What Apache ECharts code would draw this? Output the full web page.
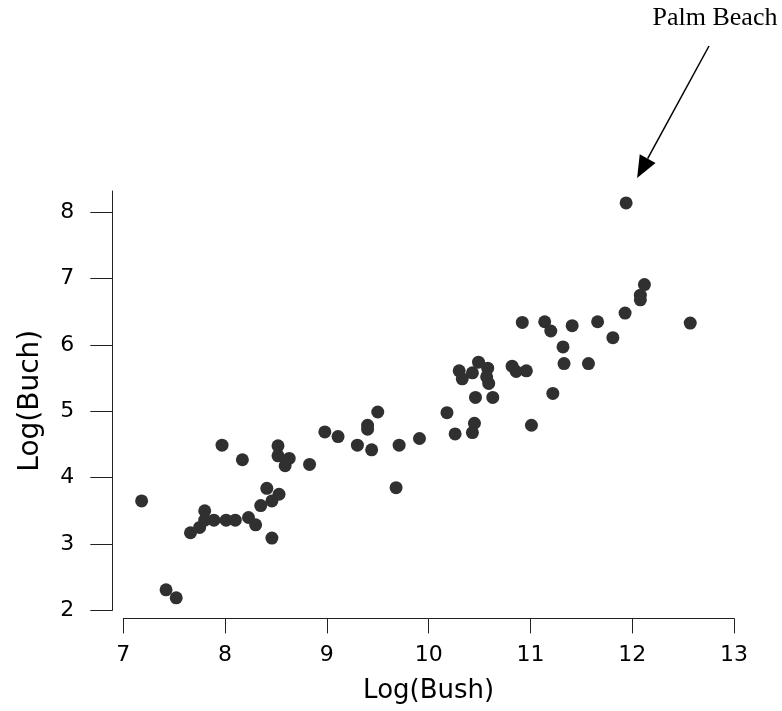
<!DOCTYPE html>
<html>
<head>
<meta charset="utf-8">
<script src="https://cdn.jsdelivr.net/npm/echarts@6/dist/echarts.min.js"></script>
<style>html,body{margin:0;padding:0;background:#fff;}#c{width:782px;height:711px;}</style>
</head>
<body>
<div id="c"></div>
<script>
const bush = [7.18,7.42,7.52,7.66,7.75,7.80,7.80,7.89,8.01,8.10,8.23,8.30,8.35,8.41,8.46,8.53,8.46,
  7.97,8.17,8.52,8.52,8.63,8.59,
  8.83,8.98,9.11,9.30,9.40,9.40,9.44,9.50,9.71,9.68,9.91,10.18,10.46,10.45,10.43,10.26,
  10.92,11.14,11.20,11.41,11.66,11.81,11.32,11.33,11.57,10.49,10.30,10.33,10.43,10.58,10.57,10.59,10.82,10.86,10.96,10.63,11.22,11.01,
  11.94,12.12,12.08,12.08,11.93,12.57];
const buch = [3.65,2.31,2.19,3.17,3.25,3.50,3.36,3.36,3.36,3.36,3.40,3.29,3.58,3.84,3.65,3.75,3.09,
  4.49,4.27,4.48,4.33,4.29,4.18,
  4.20,4.69,4.62,4.49,4.79,4.73,4.42,4.99,4.49,3.85,4.59,4.98,5.21,4.82,4.68,4.66,
  6.34,6.35,6.21,6.29,6.35,6.11,5.97,5.72,5.72,5.74,5.61,5.49,5.58,5.65,5.52,5.42,5.68,5.60,5.61,5.21,5.27,4.79,
  8.14,6.91,6.75,6.68,6.48,6.33];
const xTicks = [7,8,9,10,11,12,13];
const yTicks = [2,3,4,5,6,7,8];
const annotationLabel = 'Palm Beach';
const annotationPoint = [11.94, 8.14];

const chart = echarts.init(document.getElementById('c'), null, {renderer:'canvas'});
const pts = bush.map((b,i)=>[b, buch[i]]);
const axisFont = 'DejaVu Sans';
chart.setOption({
  animation:false,
  backgroundColor:'#ffffff',
  grid:{left:123.3, right:48, top:191, bottom:100.6},
  xAxis:{
    type:'value', min:xTicks[0], max:xTicks[xTicks.length-1], interval:1, offset:8,
    name:'Log(Bush)', nameLocation:'middle', nameGap:60,
    nameTextStyle:{fontFamily:axisFont, fontSize:26, color:'#000'},
    axisLine:{show:true, onZero:false, lineStyle:{color:'#222', width:1}},
    axisTick:{show:true, length:15, lineStyle:{color:'#222', width:1}},
    axisLabel:{fontFamily:axisFont, fontSize:22, color:'#000', margin:26},
    splitLine:{show:false}
  },
  yAxis:{
    type:'value', min:yTicks[0], max:8.32, offset:11,
    name:'Log(Buch)', nameLocation:'middle', nameGap:68,
    nameTextStyle:{fontFamily:axisFont, fontSize:28, color:'#000'},
    axisLine:{show:true, onZero:false, lineStyle:{color:'#222', width:1}},
    axisTick:{show:true, length:22, customValues:yTicks, lineStyle:{color:'#222', width:1}},
    axisLabel:{fontFamily:axisFont, fontSize:22, color:'#000', margin:38, customValues:yTicks},
    splitLine:{show:false}
  },
  series:[{
    type:'scatter', data:pts, symbol:'circle', symbolSize:13,
    itemStyle:{color:'#303030', opacity:1}
  }]
});

const p = chart.convertToPixel({gridIndex:0}, annotationPoint);
const tip = [p[0]+11, p[1]-25];
const start = [709, 46];
const ang = Math.atan2(tip[1]-start[1], tip[0]-start[0]);
const L = 22, W = 9;
const bx = tip[0]-L*Math.cos(ang), by = tip[1]-L*Math.sin(ang);
const nx = -Math.sin(ang), ny = Math.cos(ang);
chart.setOption({
  graphic:[
    {type:'line', shape:{x1:start[0], y1:start[1], x2:bx, y2:by}, style:{stroke:'#000', lineWidth:1.5}},
    {type:'polygon', shape:{points:[tip,[bx+nx*W, by+ny*W],[bx-nx*W, by-ny*W]]}, style:{fill:'#000'}},
    {type:'text', x:715, y:18, style:{text:annotationLabel, font:'26px "Liberation Serif"', fill:'#000', align:'center', verticalAlign:'middle'}}
  ]
});
</script>
</body>
</html>
